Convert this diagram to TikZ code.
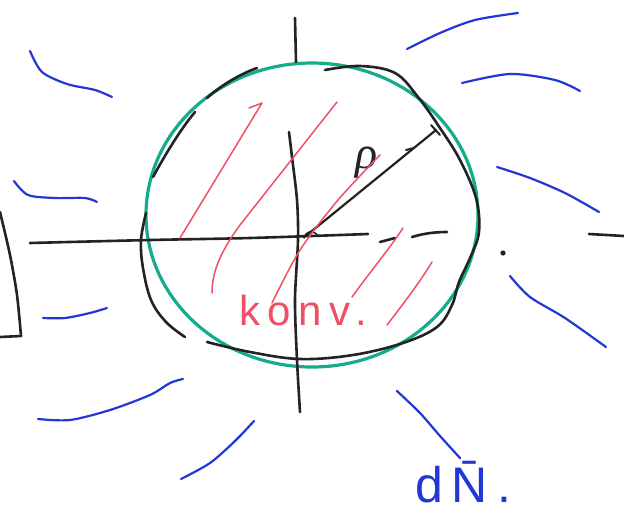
\documentclass[tikz,border=0pt]{standalone}
\usepackage{fontspec}
\newfontfamily\handfont[LetterSpace=18]{Liberation Sans}
\newfontfamily\greekfont{Liberation Serif}
\definecolor{inkblack}{RGB}{35,35,35}
\definecolor{inkgreen}{RGB}{20,172,138}
\definecolor{inkblue}{RGB}{35,55,215}
\definecolor{inkred}{RGB}{240,80,100}
\begin{document}
\begin{tikzpicture}[x=1pt,y=-1pt,line cap=round,line join=round,
  blk/.style={draw=inkblack,line width=2.6pt},
  grn/.style={draw=inkgreen,line width=3.2pt},
  blu/.style={draw=inkblue,line width=2.2pt},
  rd/.style={draw=inkred,line width=1.5pt}]
\useasboundingbox[fill=white] (0,0) rectangle (624,512);
% green circle
\draw[grn] (312,215) ellipse [x radius=166, y radius=152];
% black hand-drawn outline
\draw[blk] plot[smooth,tension=0.6] coordinates {(325,70) (360,66) (395,73) (418,97) (440,128) (460,160) (476,198) (479,232) (470,258) (459,282) (452,305) (437,327) (403,343) (353,355) (300,359) (250,352) (207,342)};
\draw[blk] plot[smooth,tension=0.6] coordinates {(146,213) (141,240) (143,268) (151,300) (166,322) (185,337)};
\draw[blk] (153,177) .. controls (165,155) and (180,130) .. (195,112);
\draw[blk] (207,98) .. controls (220,86) and (240,74) .. (257,68);
% axes
\draw[blk] plot[smooth] coordinates {(30,243) (150,240) (250,238) (368,234)};
\draw[blk] (380,242) -- (395,238);
\draw[blk] (412,237) .. controls (425,233) and (437,232) .. (447,232);
\fill[inkblack] (503,253) circle (2.6);
\draw[blk] (589,234) -- (624,236);
\draw[blk] (295,18) -- (296,62);
\draw[blk] plot[smooth] coordinates {(289,132) (292,157) (297,200) (298,240) (295,300) (297,360) (300,412)};
% radius
\coordinate (c) at (307,235);
\coordinate (r) at (436,130);
\draw[blk,line width=2.2pt] (c) -- (r);
\draw[blk,line width=2pt] (431,125) -- (440,135);
\draw[blk,line width=2pt] (406,150) -- (414,148);
\draw[blk,line width=1.6pt] (304,238) .. controls (306,231) and (313,229) .. (318,236);
\node[inkblack,anchor=base,inner sep=0pt,font=\greekfont\itshape\fontsize{46}{46}\selectfont] (rho) at (367,168) {ρ};
% left bracket
\draw[blk] plot[smooth] coordinates {(0,212) (10,255) (17,295) (21,336)} -- (0,337);
% red hatching
\draw[rd] (180,238) -- (262,103) -- (249,108);
\draw[rd] (212,293) .. controls (212,270) and (222,250) .. (240,225) -- (337,102);
\draw[rd] plot[smooth] coordinates {(380,155) (338,200) (300,250) (272,303)};
\draw[rd] (403,228) .. controls (390,248) and (370,272) .. (352,297);
\draw[rd] (432,262) .. controls (418,285) and (400,308) .. (387,325);
\node[inkred,anchor=base,inner sep=0pt,font=\handfont\fontsize{42}{42}\selectfont] (konv) at (303,325) {konv.};
% blue rays
\draw[blu] plot[smooth] coordinates {(30,51) (42,72) (67,84) (95,90) (112,97)};
\draw[blu] plot[smooth] coordinates {(14,181) (28,195) (55,198) (85,198) (97,202)};
\draw[blu] plot[smooth] coordinates {(43,318) (65,318) (90,313) (107,308)};
\draw[blu] plot[smooth] coordinates {(38,419) (70,420) (110,410) (150,395) (170,383) (183,379)};
\draw[blu] plot[smooth] coordinates {(181,479) (210,463) (235,441) (254,421)};
\draw[blu] plot[smooth] coordinates {(407,49) (440,33) (475,20) (518,13)};
\draw[blu] plot[smooth] coordinates {(462,83) (510,74) (555,80) (580,91)};
\draw[blu] plot[smooth] coordinates {(497,167) (530,178) (565,193) (599,212)};
\draw[blu] plot[smooth] coordinates {(510,276) (530,297) (565,318) (606,347)};
\draw[blu] plot[smooth] coordinates {(397,391) (420,413) (440,436) (460,458)};
\node[inkblue,anchor=base,inner sep=0pt,font=\handfont\fontsize{50}{50}\selectfont] (dn) at (463,502) {dN̄.};
\end{tikzpicture}
\end{document}
